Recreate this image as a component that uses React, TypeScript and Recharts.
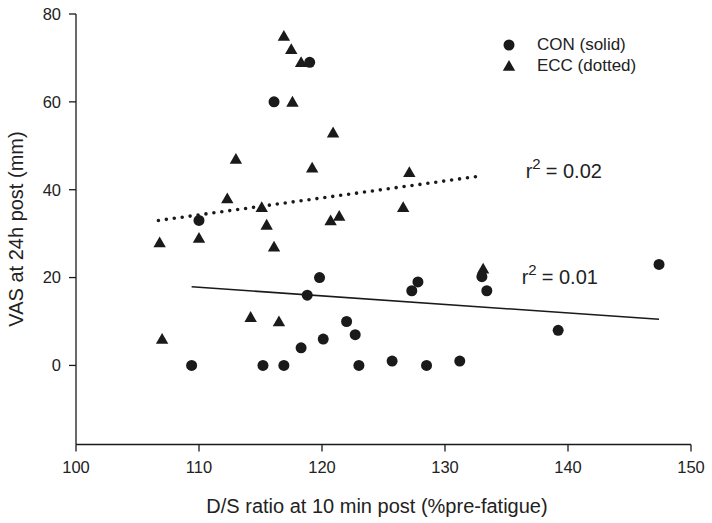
import { ScatterChart, Scatter, XAxis, YAxis } from 'recharts';

// CON (solid) group: D/S ratio vs VAS
const conRatio = [119.0, 116.1, 110.0, 109.4, 115.2, 116.9, 118.3, 118.8, 119.8, 120.1, 122.0, 122.7, 123.0, 125.7, 128.5, 131.2, 127.3, 127.8, 133.0, 133.4, 139.2, 147.4];
const conVas = [69, 60, 33, 0, 0, 0, 4, 16, 20, 6, 10, 7, 0, 1, 0, 1, 17, 19, 20.2, 17, 8, 23];

// ECC (dotted) group
const eccRatio = [116.9, 117.5, 118.3, 117.6, 120.9, 113.0, 119.2, 112.3, 115.1, 115.5, 120.7, 121.4, 110.0, 106.8, 116.1, 127.1, 126.6, 133.1, 107.0, 114.2, 116.5];
const eccVas = [75, 72, 69, 60, 53, 47, 45, 38, 36, 32, 33, 34, 29, 28, 27, 44, 36, 22, 6, 11, 10];

// regression lines (end points)
const conFitX = [109.4, 147.4];
const conFitY = [17.9, 10.5];
const eccFitX = [106.7, 133.1];
const eccFitY = [33.0, 43.2];

const xTicks = [100, 110, 120, 130, 140, 150];
const yTicks = [0, 20, 40, 60, 80];

const zip = (xs: number[], ys: number[]) => xs.map((x, i) => ({ x, y: ys[i] }));

const conData = zip(conRatio, conVas);
const eccData = zip(eccRatio, eccVas);
const conFit = zip(conFitX, conFitY);
const eccFit = zip(eccFitX, eccFitY);

const INK = '#1a1a1a';
const FONT = 'Arial, "Liberation Sans", Helvetica, sans-serif';

const Dot = ({ cx, cy }: any) => <circle cx={cx} cy={cy} r={5.5} fill={INK} />;
const Tri = ({ cx, cy }: any) => (
  <polygon points={`${cx},${cy - 6} ${cx + 6.2},${cy + 4.8} ${cx - 6.2},${cy + 4.8}`} fill={INK} />
);
const NoShape = () => <g />;

const YLabel = () => (
  <text x={16} y={229} transform="rotate(-90 16 229)" textAnchor="middle" dominantBaseline="central"
    fontSize={20} fill="#222" fontFamily={FONT}>
    VAS at 24h post (mm)
  </text>
);

const XLabel = () => (
  <text x={377} y={513} textAnchor="middle" fontSize={20} fill="#222" fontFamily={FONT}>
    D/S ratio at 10 min post (%pre-fatigue)
  </text>
);

const RSquared = ({ x, y, value }: { x: number; y: number; value: string }) => (
  <text x={x} y={y} fontSize={20} fill="#222" fontFamily={FONT}>
    r
    <tspan fontSize={15} dy={-9}>2</tspan>
    <tspan dy={9} dx={5}>= {value}</tspan>
  </text>
);

export default function App() {
  return (
    <div style={{ position: 'absolute', left: 0, top: 0, width: 712, height: 523, background: '#fff', fontFamily: FONT }}>
      <ScatterChart width={712} height={523} margin={{ top: 14, right: 21, bottom: 0, left: 16 }}>
        <XAxis type="number" dataKey="x" domain={[100, 150]} ticks={xTicks} allowDataOverflow
          height={78.5} tickSize={7} tickMargin={10}
          stroke={INK} strokeWidth={1.3}
          tick={{ fill: '#222', fontSize: 16.5, fontFamily: FONT }}
          label={<XLabel />} />
        <YAxis type="number" dataKey="y" domain={[-18, 80]} ticks={yTicks} allowDataOverflow
          width={60} tickSize={7} tickMargin={8}
          stroke={INK} strokeWidth={1.3}
          tick={{ fill: '#222', fontSize: 16.5, fontFamily: FONT }}
          label={<YLabel />} />
        <Scatter data={conFit} shape={NoShape} line={{ stroke: INK, strokeWidth: 1.6 }} isAnimationActive={false} />
        <Scatter data={eccFit} shape={NoShape}
          line={{ stroke: INK, strokeWidth: 3.6, strokeDasharray: '0 8', strokeLinecap: 'round' }} isAnimationActive={false} />
        <Scatter data={eccData} shape={Tri} isAnimationActive={false} />
        <Scatter data={conData} shape={Dot} isAnimationActive={false} />
      </ScatterChart>

      {/* legend */}
      <div style={{ position: 'absolute', left: 502, top: 34, fontSize: 17, color: '#222', lineHeight: '21px' }}>
        <div style={{ display: 'flex', alignItems: 'center' }}>
          <svg width={14} height={14} style={{ marginRight: 21 }}><circle cx={7} cy={7} r={5.5} fill={INK} /></svg>
          CON (solid)
        </div>
        <div style={{ display: 'flex', alignItems: 'center' }}>
          <svg width={14} height={14} style={{ marginRight: 21 }}><polygon points="7,1 13.2,11.8 0.8,11.8" fill={INK} /></svg>
          ECC (dotted)
        </div>
      </div>

      {/* r² annotations */}
      <svg width={712} height={523} style={{ position: 'absolute', left: 0, top: 0, pointerEvents: 'none' }}>
        <RSquared x={525.7} y={177.7} value="0.02" />
        <RSquared x={521.7} y={284.3} value="0.01" />
      </svg>
    </div>
  );
}
